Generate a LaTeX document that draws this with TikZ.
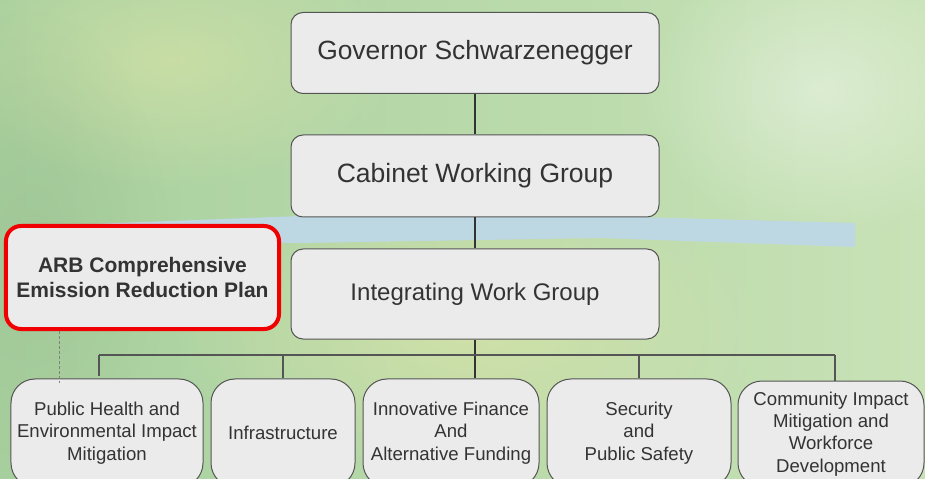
\documentclass[tikz,border=0pt]{standalone}
\usepackage{fontspec}
\setmainfont{Liberation Sans}
\usetikzlibrary{fadings}
\tikzfading[name=softglow, inner color=transparent!0, outer color=transparent!100]
\definecolor{bgA}{RGB}{168,208,158}
\definecolor{bgB}{RGB}{200,226,182}
\definecolor{bgC}{RGB}{218,228,168}
\definecolor{boxfill}{RGB}{235,235,235}
\definecolor{boxline}{RGB}{85,85,85}
\definecolor{txt}{RGB}{51,51,51}
\definecolor{band}{RGB}{189,215,227}
\definecolor{arbred}{RGB}{240,0,0}
\begin{document}
\begin{tikzpicture}[x=1bp,y=-1bp,
  box/.style={draw=boxline, fill=boxfill, line width=1bp, rounded corners=12bp,
    text=txt, align=center, inner sep=0pt},
  topbox/.style={box, minimum width=368bp},
  lowbox/.style={box, rounded corners=24bp, minimum height=108bp,
    font=\fontsize{18.6bp}{22.3bp}\selectfont},
  trunk/.style={draw=txt, line width=2bp},
  bus/.style={draw=boxline, line width=1.2bp},
  dashline/.style={draw=gray, line width=0.8bp, dash pattern=on 3bp off 2bp},
  glow/.style={path fading=softglow}]
\useasboundingbox (0,0) rectangle (925,479);
\clip (0,0) rectangle (925,479);
% background
\shade[left color=bgA, right color=bgB] (0,0) rectangle (925,479);
\fill[bgC, opacity=0.7, glow] (470,330) ellipse (300 and 150);
\fill[bgC, opacity=0.6, glow] (170,60) ellipse (230 and 130);
\fill[white, opacity=0.4, glow] (820,90) ellipse (180 and 150);
\fill[bgA!85!black, opacity=0.3, glow] (30,250) ellipse (140 and 240);
% blue band
\fill[band] (92,224) -- (300,216) -- (600,216) -- (855,223) -- (855,247)
  -- (600,238) -- (300,243) -- (92,240) -- cycle;
% nodes
\node[topbox, minimum height=81bp, font=\fontsize{26.4bp}{30bp}\selectfont]
  (gov) at (475,53) {Governor Schwarzenegger};
\node[topbox, minimum height=82bp, font=\fontsize{26.5bp}{30bp}\selectfont]
  (cab) at (475,176) {Cabinet Working Group};
\node[topbox, minimum height=90bp, font=\fontsize{24bp}{28bp}\selectfont]
  (iwg) at (475,294) {Integrating Work Group};
\node[box, draw=arbred, line width=4bp, rounded corners=15bp,
  minimum width=273bp, minimum height=103bp,
  font=\fontsize{21bp}{25bp}\selectfont\bfseries]
  (arb) at (142.5,277.5) {ARB Comprehensive\\Emission Reduction Plan};
\node[lowbox, minimum width=192bp] (b1) at (107,433)
  {Public Health and\\Environmental Impact\\Mitigation};
\node[lowbox, minimum width=144bp] (b2) at (283,433) {Infrastructure};
\node[lowbox, minimum width=176bp] (b3) at (451,433)
  {Innovative Finance\\And\\Alternative Funding};
\node[lowbox, minimum width=184bp] (b4) at (639,433)
  {Security\\and\\Public Safety};
\node[lowbox, minimum width=186bp, minimum height=106bp] (b5) at (831,434)
  {Community Impact\\Mitigation and\\Workforce\\Development};
% connectors
\coordinate (busL) at (99,355);
\coordinate (busR) at (835,355);
\coordinate (d1) at (99,376);
\coordinate (d5) at (835,381);
\coordinate (dashEnd) at (59,383);
\draw[trunk] (gov.south) -- (cab.north);
\draw[trunk] (cab.south) -- (iwg.north);
\draw[trunk] (iwg.south) -- (iwg.south |- b3.north);
\draw[bus] (busL) -- (busR);
\draw[bus] (busL) -- (d1);
\draw[bus] (busL -| b2.north) -- (b2.north);
\draw[bus] (busL -| b4.north) -- (b4.north);
\draw[bus] (busR) -- (d5);
\draw[dashline] (arb.south -| dashEnd) -- (dashEnd);
\end{tikzpicture}
\end{document}
